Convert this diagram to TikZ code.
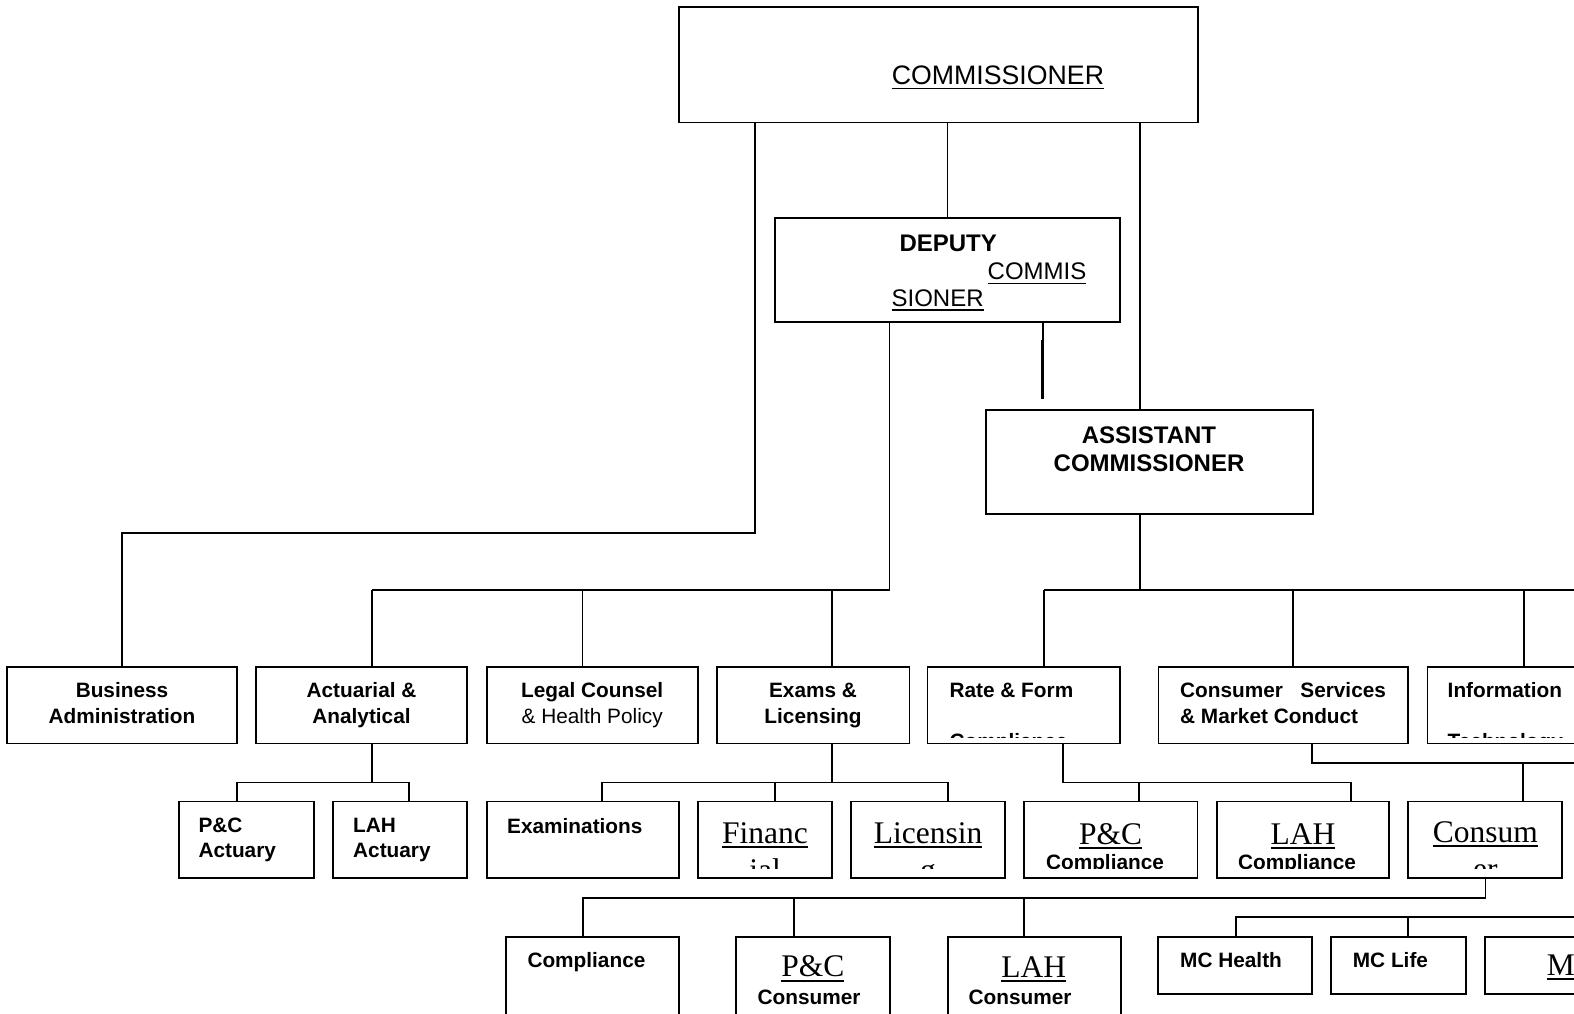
\documentclass[tikz,border=0pt]{standalone}
\usepackage{fontspec}
\setmainfont{Liberation Sans}
\newfontfamily\tnr{Liberation Serif}
\usetikzlibrary{fit}

\newsavebox\ulbox
\newcommand{\ulbar}[1]{\sbox\ulbox{#1}\rlap{\rule[-5pt]{\wd\ulbox}{1.8pt}}\usebox\ulbox}

\tikzset{
    box/.style={draw, line width=1.8pt, inner sep=0pt},
    conn/.style={line width=1.8pt},
    head/.style={inner sep=0pt, align=center, font=\fontsize{24}{27.7}\selectfont\bfseries},
    headreg/.style={inner sep=0pt, font=\fontsize{24}{27.7}\selectfont},
    lbl/.style={inner sep=0pt, align=center, font=\fontsize{20.8}{25.5}\selectfont\bfseries},
    lbll/.style={lbl, align=left},
    serif/.style={inner sep=0pt, align=center, font=\fontsize{31.5}{37}\selectfont\tnr},
}

\begin{document}
\begin{tikzpicture}[x=1pt,y=-1pt]
    \useasboundingbox (0,0) rectangle (1574,1013);
    \fill[white] (0,0) rectangle (1574,1013);
    \clip (0,0) rectangle (1574,1013);

    % Top of the chart
    \node[box, fit={(679,7) (1198,122.5)}] (comm) {};
    \node[box, fit={(775,218) (1120,322)}] (deputy) {};
    \node[box, fit={(986,410) (1312.7,514)}] (assist) {};

    % (base of a node with several lines is its last line)
    \node[anchor=base west, inner sep=0pt, font=\fontsize{26.7}{30}\selectfont] (tcomm) at (891.7,84.3) {\ulbar{COMMISSIONER}};
    \node[head, anchor=base west] (tdep1) at (899.3,251) {DEPUTY};
    \node[headreg, anchor=base west] (tdep2) at (987.5,279.3) {\ulbar{COMMIS}};
    \node[headreg, anchor=base west] (tdep3) at (891.4,306) {\ulbar{SIONER}};
    \node[head, anchor=base] (tass) at (1149,471) {ASSISTANT\\COMMISSIONER};

    % First row of divisions
    \node[box, fit={(7,667) (237,743.5)}] (busadm) {};
    \node[box, fit={(256,667) (467,743.5)}] (actuar) {};
    \node[box, fit={(487,667) (697.6,743.5)}] (legal) {};
    \node[box, fit={(716.7,667) (909.4,743.5)}] (exams) {};
    \node[box, fit={(927.5,667) (1120,743.5)}] (ratef) {};
    \node[box, fit={(1158.4,667) (1408.3,743.5)}] (consserv) {};
    \node[box, fit={(1427.4,667) (1620,743.5)}] (infotech) {};

    \node[lbl, anchor=base] (tbus) at (122,723.3) {Business\\Administration};
    \node[lbl, anchor=base] (tact) at (361.5,723.3) {Actuarial \&\\Analytical};
    \node[lbl, anchor=base] (tleg) at (592.2,723.3) {Legal Counsel\\{\mdseries\& Health Policy}};
    \node[lbl, anchor=base] (texa) at (813,723.3) {Exams \&\\Licensing};
    \begin{scope}
        \clip (ratef.north west) rectangle ([yshift=7pt]ratef.south east);
        \node[lbll, anchor=base west] (trat) at (949.4,748.5) {Rate \& Form\\[25.3pt]Compliance};
    \end{scope}
    \node[lbll, anchor=base west] (tcon) at (1180,723.3) {Consumer\ \ \ Services\\\& Market Conduct};
    \begin{scope}
        \clip (infotech.north west) rectangle ([yshift=7pt]infotech.south east);
        \node[lbll, anchor=base west] (tinf) at (1447.5,748.5) {Information\\[25.3pt]Technology};
    \end{scope}

    % Second row
    \node[box, fit={(179,801.5) (314,878)}] (pcact) {};
    \node[box, fit={(332.7,801.5) (466.7,878)}] (lahact) {};
    \node[box, fit={(487,801.5) (678.6,878)}] (examin) {};
    \node[box, fit={(697.6,801.5) (832,878)}] (financ) {};
    \node[box, fit={(851.2,801.5) (1004.8,878)}] (licens) {};
    \node[box, fit={(1024,801.5) (1197.5,878)}] (pccomp) {};
    \node[box, fit={(1216.6,801.5) (1389.3,878)}] (lahcomp) {};
    \node[box, fit={(1408,801.5) (1562,878)}] (consum) {};

    \node[lbll, anchor=base west] (tpca) at (198.3,857.8) {P\&C\\Actuary};
    \node[lbll, anchor=base west] (tlaa) at (353,857.8) {LAH\\Actuary};
    \node[lbll, anchor=base west] (texm) at (507,833) {Examinations};
    \begin{scope}
        \clip (financ.north west) rectangle ([yshift=10pt]financ.south east);
        \node[serif, anchor=base] (tfin) at (765,880) {\ulbar{Financ}\\\ulbar{ial}};
    \end{scope}
    \begin{scope}
        \clip (licens.north west) rectangle ([yshift=10pt]licens.south east);
        \node[serif, anchor=base] (tlic) at (928,880) {\ulbar{Licensin}\\\ulbar{g}};
    \end{scope}
    \begin{scope}
        \clip (pccomp.north west) rectangle ([yshift=10pt]pccomp.south east);
        \node[serif, anchor=base] (tpcc1) at (1110.7,844) {\ulbar{P\&C}};
        \node[lbl, anchor=base] (tpcc2) at (1105,869.5) {Compliance};
    \end{scope}
    \begin{scope}
        \clip (lahcomp.north west) rectangle ([yshift=10pt]lahcomp.south east);
        \node[serif, anchor=base] (tlac1) at (1303,844) {\ulbar{LAH}};
        \node[lbl, anchor=base] (tlac2) at (1297,869.5) {Compliance};
    \end{scope}
    \begin{scope}
        \clip (consum.north west) rectangle ([yshift=10pt]consum.south east);
        \node[serif, anchor=base] (tcsm) at (1485.3,879) {\ulbar{Consum}\\\ulbar{er}};
    \end{scope}

    % Third row
    \node[box, fit={(505.7,936.7) (679,1040)}] (compl) {};
    \node[box, fit={(736,936.7) (890,1040)}] (pccons) {};
    \node[box, fit={(947.7,936.7) (1120.7,1040)}] (lahcons) {};
    \node[box, fit={(1158.3,936.7) (1312.3,994)}] (mchealth) {};
    \node[box, fit={(1331,936.7) (1466,994)}] (mclife) {};
    \node[box, fit={(1485,936.7) (1620,994)}] (mcother) {};

    \node[lbll, anchor=base west] (tcpl) at (527.3,967.3) {Compliance};
    \node[serif, anchor=base] (tpcs1) at (812.8,976.7) {\ulbar{P\&C}};
    \node[lbl, anchor=base] (tpcs2) at (809,1004) {Consumer};
    \node[serif, anchor=base] (tlas1) at (1033.7,977) {\ulbar{LAH}};
    \node[lbl, anchor=base] (tlas2) at (1020,1004) {Consumer};
    \node[lbll, anchor=base west] (tmch) at (1180,967.3) {MC Health};
    \node[lbll, anchor=base west] (tmcl) at (1352.7,967.3) {MC Life};
    \node[serif, anchor=base west] (tmco) at (1546.7,975) {\ulbar{M}};

    % Connectors from the top
    \coordinate (jba) at (755,533);
    \draw[conn] (comm.south -| jba) -- (jba) -| (busadm.north);
    \draw[conn] (deputy.north) -- (deputy.north |- comm.south);
    \coordinate (jas) at (1140,590);
    \draw[conn] (comm.south -| jas) -- (assist.north -| jas);
    \draw[conn] (assist.south -| jas) -- (jas);

    \coordinate (stub) at (1042.7,399);
    \draw[conn] (deputy.south -| stub) -- (stub);
    \draw[line width=2.8pt] ([yshift=59pt]stub) -- (stub);

    % Deputy branches
    \coordinate (jdp) at (889.5,590);
    \coordinate (dact) at (371.7,590);
    \draw[conn] (deputy.south -| jdp) -- (jdp) -- (dact);
    \foreach \bn/\bx in {actuar/371.7, legal/582.5, exams/832} {
        \coordinate (d\bn) at (\bx,590);
        \draw[conn] (d\bn) -- (\bn.north -| d\bn);
    }

    % Assistant branches
    \coordinate (drat) at (1044,590);
    \coordinate (aright) at (1580,590);
    \draw[conn] (drat) -- (aright);
    \foreach \bn/\bx in {ratef/1044, consserv/1293, infotech/1524} {
        \coordinate (d\bn) at (\bx,590);
        \draw[conn] (d\bn) -- (\bn.north -| d\bn);
    }

    % Second level
    \coordinate (jac) at (371.7,782.5);
    \coordinate (dpca) at (236.7,782.5);
    \coordinate (dlaa) at (409,782.5);
    \draw[conn] (actuar.south -| jac) -- (jac);
    \draw[conn] (pcact.north -| dpca) -- (dpca) -- (dlaa) -- (lahact.north -| dlaa);

    \coordinate (jex) at (832,782.5);
    \coordinate (dexm) at (602,782.5);
    \coordinate (dfin) at (775,782.5);
    \coordinate (dlic) at (947.6,782.5);
    \draw[conn] (exams.south -| jex) -- (jex);
    \draw[conn] (examin.north -| dexm) -- (dexm) -- (dlic) -- (licens.north -| dlic);
    \draw[conn] (dfin) -- (financ.north -| dfin);

    \coordinate (jrf) at (1063,782.5);
    \coordinate (dpcc) at (1139,782.5);
    \coordinate (dlac) at (1351,782.5);
    \draw[conn] (ratef.south -| jrf) -- (jrf) -- (dlac) -- (lahcomp.north -| dlac);
    \draw[conn] (dpcc) -- (pccomp.north -| dpcc);

    \coordinate (jcs) at (1312,763);
    \coordinate (csright) at (1580,763);
    \coordinate (dcsm) at (1523,763);
    \draw[conn] (consserv.south -| jcs) -- (jcs) -- (csright);
    \draw[conn] (dcsm) -- (consum.north -| dcsm);

    % Third level
    \coordinate (jcm) at (1485.5,898);
    \coordinate (dcmp) at (582.7,898);
    \draw[conn] (consum.south -| jcm) -- (jcm) -- (dcmp) -- (compl.north -| dcmp);
    \foreach \bn/\bx in {pccons/794, lahcons/1024.3} {
        \coordinate (d\bn) at (\bx,898);
        \draw[conn] (d\bn) -- (\bn.north -| d\bn);
    }

    \coordinate (mcright) at (1580,917.3);
    \coordinate (dmch) at (1235.7,917.3);
    \coordinate (dmcl) at (1408.3,917.3);
    \draw[conn] (mcright) -- (dmch) -- (mchealth.north -| dmch);
    \draw[conn] (dmcl) -- (mclife.north -| dmcl);
\end{tikzpicture}
\end{document}
